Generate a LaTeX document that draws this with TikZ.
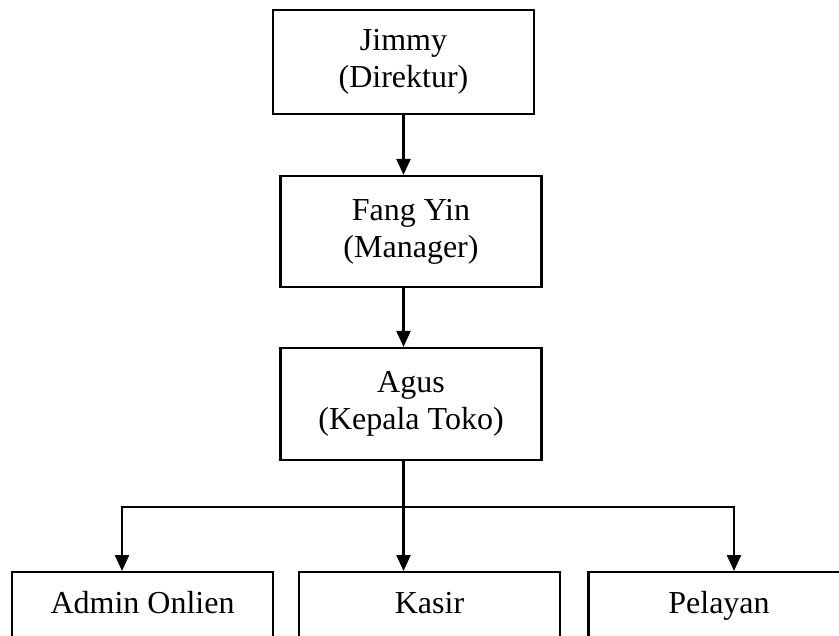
\documentclass[tikz,border=0pt]{standalone}
\usepackage{fontspec}
\setmainfont{Liberation Serif}
\usetikzlibrary{arrows.meta,positioning,calc}

\begin{document}
\begin{tikzpicture}[x=1pt,y=-1pt]
  \def\w{261}
  \tikzset{post/.style={draw,line width=2.2pt,minimum width=\w pt,align=center,inner sep=6pt,
      font=\fontsize{32}{37}\selectfont}}
  \tikzset{staff/.style={post,anchor=north,text height=35pt,text depth=70pt}}
  \tikzset{transition/.style={line width=2.4pt,-{Triangle[length=16pt,width=14pt]}}}
  \useasboundingbox (0,0) rectangle (839,636);
  \clip (0,0) rectangle (839,636);
  \node[post,minimum height=104pt] (jimmy) at (403.5,62) {Jimmy\\(Direktur)};
  \node[post,minimum height=111pt] (fang) at (411,231.5) {Fang Yin\\(Manager)};
  \node[post,minimum height=112pt] (agus) at (411,404) {Agus\\(Kepala Toko)};
  \node[staff] (admin) at (142.5,571) {Admin Onlien};
  \node[staff] (kasir) at (429.5,571) {Kasir};
  \node[staff] (pelayan) at (719,571) {Pelayan};
  \coordinate (split) at (jimmy.south |- 0,507);
  \draw[transition] (jimmy.south) -- (jimmy.south |- fang.north);
  \draw[transition] (fang.south -| jimmy.south) -- (agus.north -| jimmy.south);
  \draw[line width=2.4pt] (agus.south -| jimmy.south) -- (split);
  \draw[transition] (split) -| ([xshift=-20.5pt]admin.north);
  \draw[transition] (split) -- (split |- kasir.north);
  \draw[transition] (split) -| ([xshift=15pt]pelayan.north);
\end{tikzpicture}
\end{document}
